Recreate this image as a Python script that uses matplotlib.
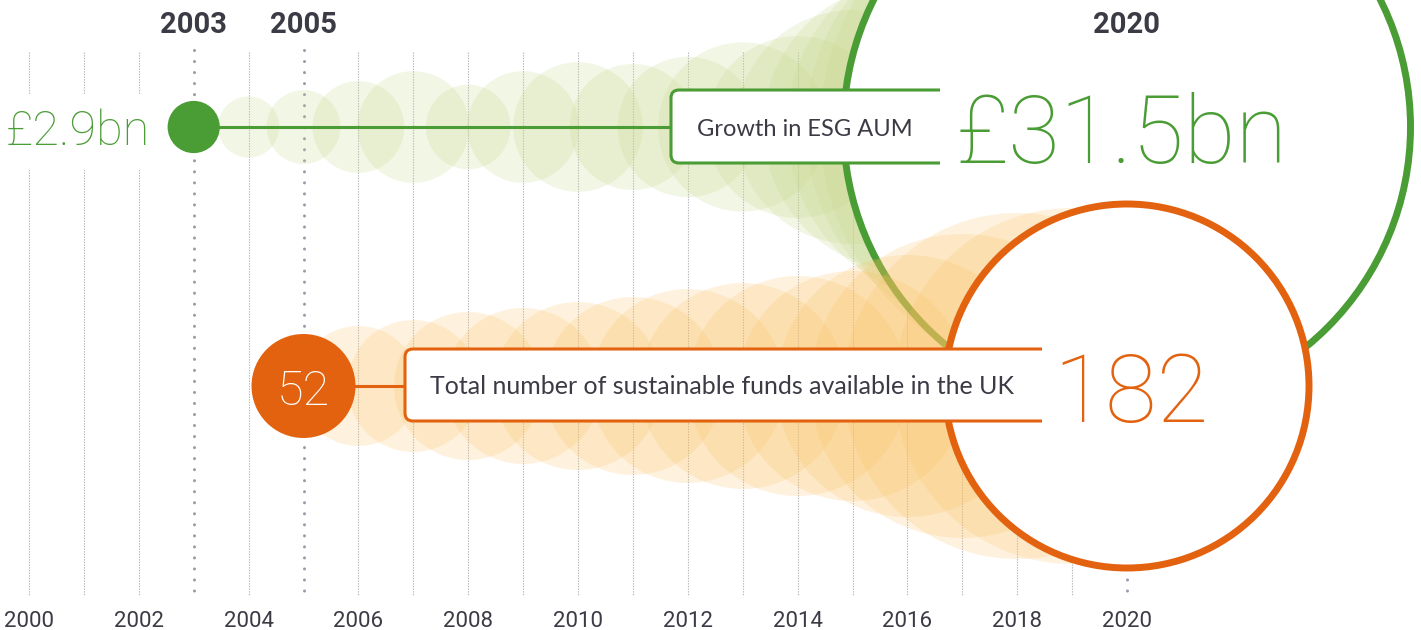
import matplotlib
matplotlib.use("Agg")
import matplotlib.pyplot as plt
from matplotlib.patches import Circle, PathPatch
from matplotlib.path import Path

# data
aum_years = list(range(2003, 2021))
aum_bn = [2.9, 3.4, 4.1, 5.1, 6.2, 4.7, 6.2, 7.2, 7.0, 7.8, 9.4, 10.1, 13.0, 16.0, 19.5, 23.5, 28.0, 31.5]
fund_years = list(range(2005, 2021))
funds = [52, 60, 66, 74, 78, 84, 89, 97, 103, 110, 115, 131, 152, 173, 178, 182]
tick_years = list(range(2000, 2021, 2))
bold_years = [2003, 2005, 2020]
aum_label = "Growth in ESG AUM"
fund_label = "Total number of sustainable funds available in the UK"

GREEN = "#4a9c35"
ORANGE = "#e3620f"
TEXT = "#3b3b45"
GRID = "#b4b4bc"

W, H = 1421, 630
PX = 54.9          # pixels per year
X0 = 29            # pixel x of year 2000


def py(p):
    # pixel row from top -> data y
    return (H - p) / PX


def px(p):
    # pixel column -> data x (years)
    return 2000 + (p - X0) / PX


fig = plt.figure(figsize=(W / 100, H / 100), dpi=100)
ax = fig.add_axes([0, 0, 1, 1])
ax.set_xlim(px(0), px(W))
ax.set_ylim(0, H / PX)
ax.axis("off")

green_y = py(127)
orange_y = py(386)
r_aum = 9.0 / PX     # radius per £bn
r_fund = 1.0 / PX    # radius per fund

sans = ["Lato", "DejaVu Sans"]
light = ["Roboto", "DejaVu Sans"]
narrow = ["Liberation Sans Narrow", "Roboto", "DejaVu Sans"]

# grid lines
for yr in range(2000, 2021):
    if yr in bold_years:
        ax.plot([yr, yr], [py(50), py(595)], color="#9a9aaa", lw=2.2,
                linestyle=(0, (0.01, 3.6)), dash_capstyle="round", zorder=1)
    else:
        ax.plot([yr, yr], [py(52), py(595)], color=GRID, lw=0.8,
                linestyle=(0, (1.2, 1.2)), zorder=1)

# green bubbles
for yr, v in zip(aum_years[1:-1], aum_bn[1:-1]):
    ax.add_patch(Circle((yr, green_y), v * r_aum, facecolor="#c8d78c",
                        edgecolor="none", alpha=0.22, zorder=2))
ax.add_patch(Circle((aum_years[-1], green_y), aum_bn[-1] * r_aum, facecolor="white",
                    edgecolor=GREEN, lw=5, zorder=3))
ax.plot([aum_years[0], px(671)], [green_y, green_y], color=GREEN, lw=2.2, zorder=4)
ax.add_patch(Circle((aum_years[0], green_y), aum_bn[0] * r_aum, facecolor=GREEN,
                    edgecolor="none", zorder=5))

# orange bubbles
for yr, v in zip(fund_years[1:-1], funds[1:-1]):
    ax.add_patch(Circle((yr, orange_y), v * r_fund, facecolor="#fbbf5e",
                        edgecolor="none", alpha=0.2, zorder=6))
ax.add_patch(Circle((fund_years[-1], orange_y), funds[-1] * r_fund, facecolor="white",
                    edgecolor=ORANGE, lw=5, zorder=7))
ax.plot([fund_years[0], px(405)], [orange_y, orange_y], color=ORANGE, lw=2.2, zorder=8)
ax.add_patch(Circle((fund_years[0], orange_y), funds[0] * r_fund, facecolor=ORANGE,
                    edgecolor="none", zorder=9))


def label_box(x0, x1, top, bottom, color):
    r = 8 / PX
    y1, y0 = py(top), py(bottom)
    verts = [(x1, y1), (x0 + r, y1), (x0, y1), (x0, y1 - r), (x0, y0 + r),
             (x0, y0), (x0 + r, y0), (x1, y0)]
    codes = [Path.MOVETO, Path.LINETO, Path.CURVE3, Path.CURVE3, Path.LINETO,
             Path.CURVE3, Path.CURVE3, Path.LINETO]
    fill = Path(verts + [(x1, y1)], codes + [Path.CLOSEPOLY])
    ax.add_patch(PathPatch(fill, facecolor="white", edgecolor="none", zorder=10))
    ax.add_patch(PathPatch(Path(verts, codes), facecolor="none", edgecolor=color,
                           lw=2.2, zorder=11))


label_box(px(671), px(940), 90, 163, GREEN)
label_box(px(405), px(1042), 349, 421, ORANGE)

ax.text(px(697), py(136), aum_label, color=TEXT, fontsize=17, family=sans,
        va="baseline", ha="left", zorder=12)
ax.text(px(430), py(394), fund_label, color=TEXT, fontsize=18, family=sans,
        va="baseline", ha="left", zorder=12)

ax.text(px(956), py(163), f"£{aum_bn[-1]}bn", color=GREEN, fontsize=68, family=light,
        fontweight="light", va="baseline", ha="left", zorder=12)
ax.text(px(1053), py(422), f"{funds[-1]}", color=ORANGE, fontsize=68, family=light,
        fontweight="light", va="baseline", ha="left", zorder=12)
ax.text(px(150), py(145), f"£{aum_bn[0]}bn", color=GREEN, fontsize=35, family=light,
        fontweight="light", va="baseline", ha="right", zorder=12,
        bbox=dict(boxstyle="square,pad=0.3", facecolor="white", edgecolor="none"))
ax.text(fund_years[0], py(405), f"{funds[0]}", color="white", fontsize=35, family=light,
        fontweight="light", va="baseline", ha="center", zorder=12)

for yr in tick_years:
    ax.text(yr, py(627), str(yr), color=TEXT, fontsize=16, family=narrow,
            va="baseline", ha="center", zorder=12)
for yr in bold_years:
    ax.text(yr, py(33), str(yr), color=TEXT, fontsize=21, family=narrow,
            fontweight="bold", va="baseline", ha="center", zorder=12)

fig.savefig("out.png", dpi=100)
